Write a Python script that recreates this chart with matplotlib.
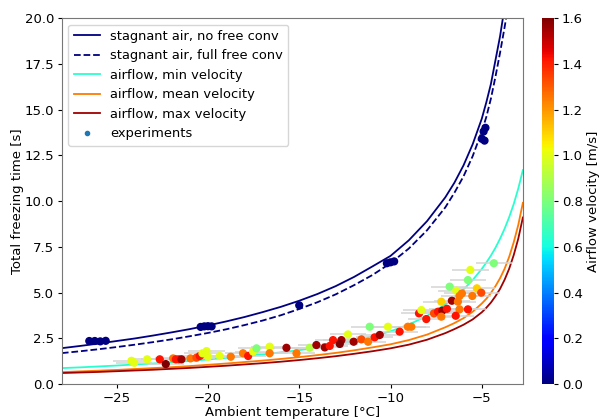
import numpy as np
import matplotlib
matplotlib.use("Agg")
import matplotlib.pyplot as plt
from matplotlib.lines import Line2D

plt.rcParams['font.size'] = 9.5
plt.rcParams['xtick.major.size'] = 3
plt.rcParams['ytick.major.size'] = 3
plt.rcParams['xtick.major.pad'] = 2.5
plt.rcParams['ytick.major.pad'] = 2.5

# model curves
curve_temp = [-28, -27, -26, -25, -24, -23, -22, -21, -20, -19, -18, -17, -16,
              -15, -14, -13, -12, -11, -10, -9, -8, -7, -6.5, -6, -5.5, -5,
              -4.75, -4.5, -4.25, -4, -3.75, -3.5, -3.25, -3, -2.75]

stag_no_conv = [1.96, 2.08, 2.21, 2.35, 2.49, 2.65, 2.82, 3.0, 3.2, 3.42, 3.66,
                3.93, 4.22, 4.55, 4.92, 5.35, 5.85, 6.42, 7.0, 7.85, 8.9, 10.2,
                11.0, 11.95, 13.1, 14.5, 15.4, 16.4, 17.7, 19.0, 20.6, 22.5,
                25.0, 28.0, 32.0]
stag_full_conv = [1.69, 1.79, 1.9, 2.02, 2.15, 2.29, 2.44, 2.61, 2.79, 2.99, 3.22,
                  3.47, 3.76, 4.1, 4.47, 4.9, 5.4, 5.95, 6.6, 7.4, 8.4, 9.65,
                  10.45, 11.35, 12.45, 13.8, 14.6, 15.6, 16.8, 18.1, 19.5, 21.0,
                  23.0, 25.5, 28.5]
air_min = [0.87, 0.91, 0.96, 1.01, 1.07, 1.12, 1.19, 1.26, 1.34, 1.43, 1.52,
           1.62, 1.73, 1.85, 2.0, 2.17, 2.37, 2.6, 2.88, 3.25, 3.72, 4.35,
           4.74, 5.17, 5.68, 6.29, 6.64, 7.02, 7.45, 7.94, 8.49, 9.12, 9.84,
           10.69, 11.69]
air_mean = [0.65, 0.69, 0.73, 0.77, 0.82, 0.87, 0.92, 0.98, 1.05, 1.12, 1.2,
            1.28, 1.37, 1.47, 1.58, 1.7, 1.84, 2.0, 2.17, 2.4, 2.7, 3.1,
            3.33, 3.6, 3.95, 4.4, 4.66, 4.98, 5.35, 5.78, 6.3, 6.95, 7.75,
            8.7, 9.9]
air_max = [0.6, 0.63, 0.66, 0.7, 0.74, 0.78, 0.83, 0.88, 0.94, 1.0, 1.07,
           1.14, 1.22, 1.31, 1.41, 1.52, 1.65, 1.79, 1.95, 2.15, 2.42, 2.78,
           3.0, 3.24, 3.53, 3.92, 4.17, 4.45, 4.8, 5.2, 5.7, 6.3, 7.05,
           7.95, 9.1]

# experiments in stagnant air
stag_exp_temp = [-26.5, -26.2, -25.9, -25.6, -20.4, -20.2, -20.0, -19.8, -15.0,
                 -10.2, -10.0, -9.8, -5.0, -4.9, -4.8, -4.85]
stag_exp_time = [2.35, 2.35, 2.33, 2.36, 3.12, 3.15, 3.16, 3.15, 4.3,
                 6.6, 6.65, 6.7, 13.4, 13.8, 14.0, 13.3]

# experiments with airflow
air_exp_temp = [-24.19, -24.04, -23.33, -22.64, -22.31, -21.91, -21.76, -21.60,
                -21.45, -20.96, -20.63, -20.45, -20.30, -20.08, -19.99, -19.35,
                -18.75, -18.08, -17.80, -17.53, -17.34, -16.62, -16.62, -15.70,
                -15.15, -14.43, -14.06, -13.60, -13.33, -13.15, -12.69, -12.78,
                -12.33, -12.02, -11.60, -11.23, -10.87, -10.59, -11.14, -10.14,
                -9.05, -8.86, -9.50, -8.44, -8.31, -8.04, -7.62, -7.40, -7.16,
                -6.91, -7.22, -7.22, -6.76, -6.64, -6.31, -6.22, -6.43, -6.40,
                -6.22, -6.09, -5.76, -5.76, -5.63, -5.52, -5.27, -5.03, -4.34]
air_exp_time = [1.27, 1.16, 1.35, 1.35, 1.09, 1.40, 1.35, 1.35,
                1.35, 1.40, 1.44, 1.53, 1.68, 1.80, 1.49, 1.53,
                1.49, 1.68, 1.53, 1.77, 1.95, 2.04, 1.68, 1.98,
                1.68, 1.98, 2.13, 2.00, 2.08, 2.40, 2.40, 2.19,
                2.71, 2.31, 2.44, 2.31, 2.55, 2.68, 3.13, 3.13,
                3.13, 3.13, 2.86, 3.86, 4.04, 3.55, 3.86, 3.95, 4.01,
                4.11, 3.68, 4.50, 5.32, 4.55, 4.50, 4.08, 3.73, 5.10,
                4.81, 4.95, 4.08, 5.68, 6.23, 4.81, 5.23, 4.99, 6.60]
air_exp_vel = [1.0, 1.0, 1.0, 1.42, 1.6, 1.25, 1.42, 1.42,
               1.55, 1.25, 1.33, 1.42, 1.0, 1.0, 1.0, 1.0,
               1.25, 1.25, 1.42, 1.0, 0.8, 1.0, 1.25, 1.55,
               1.25, 0.9, 1.55, 1.55, 1.42, 1.42, 1.55, 1.6,
               1.0, 1.55, 1.33, 1.25, 1.42, 1.55, 0.8, 1.0,
               1.25, 1.25, 1.42, 1.42, 1.0, 1.42, 1.33, 1.42, 1.55,
               1.42, 1.25, 1.1, 0.8, 1.55, 1.25, 1.25, 1.42, 1.0,
               1.25, 1.25, 1.42, 0.8, 1.0, 1.25, 1.1, 1.33, 0.8]
temp_err = 1.0

vmin, vmax = 0.0, 1.6
cmap = plt.get_cmap('jet')
norm = plt.Normalize(vmin, vmax)

fig = plt.figure(figsize=(6.01, 4.19), dpi=100)
ax = fig.add_axes([0.103, 0.0835, 0.767, 0.8735])
cax = fig.add_axes([0.902, 0.0835, 0.02, 0.8735])

ax.plot(curve_temp, stag_no_conv, color=cmap(0.0), lw=1.3,
        label='stagnant air, no free conv')
ax.plot(curve_temp, stag_full_conv, color=cmap(0.0), lw=1.3, ls='--',
        label='stagnant air, full free conv')
ax.plot(curve_temp, air_min, color=cmap(0.4), lw=1.3, label='airflow, min velocity')
ax.plot(curve_temp, air_mean, color=cmap(0.78), lw=1.3, label='airflow, mean velocity')
ax.plot(curve_temp, air_max, color=cmap(0.97), lw=1.3, label='airflow, max velocity')

ax.errorbar(air_exp_temp, air_exp_time, xerr=temp_err, fmt='none',
            ecolor='#d4d4d4', elinewidth=1.1, zorder=2)
ax.scatter(stag_exp_temp, stag_exp_time, c=[0.0] * len(stag_exp_temp),
           cmap=cmap, norm=norm, s=24, zorder=3)
sc = ax.scatter(air_exp_temp, air_exp_time, c=air_exp_vel, cmap=cmap,
                norm=norm, s=24, zorder=3)

handles, labels = ax.get_legend_handles_labels()
handles.append(Line2D([], [], ls='none', marker='o', markersize=3,
                      color='#1f77b4'))
labels.append('experiments')
ax.legend(handles, labels, loc='upper left', fontsize=9.4)

ax.set_xlim(-28, -2.75)
ax.set_ylim(0, 20)
ax.set_xticks([-25, -20, -15, -10, -5])
ax.set_xlabel('Ambient temperature [°C]', labelpad=1)
ax.set_ylabel('Total freezing time [s]', labelpad=0.5)
for sp in ax.spines.values():
    sp.set_color('#777777')

cb = fig.colorbar(sc, cax=cax)
cb.set_ticks(np.arange(0, 1.61, 0.2))
cb.set_label('Airflow velocity [m/s]', labelpad=3)
cb.outline.set_visible(False)

fig.savefig('out.png', dpi=100)
